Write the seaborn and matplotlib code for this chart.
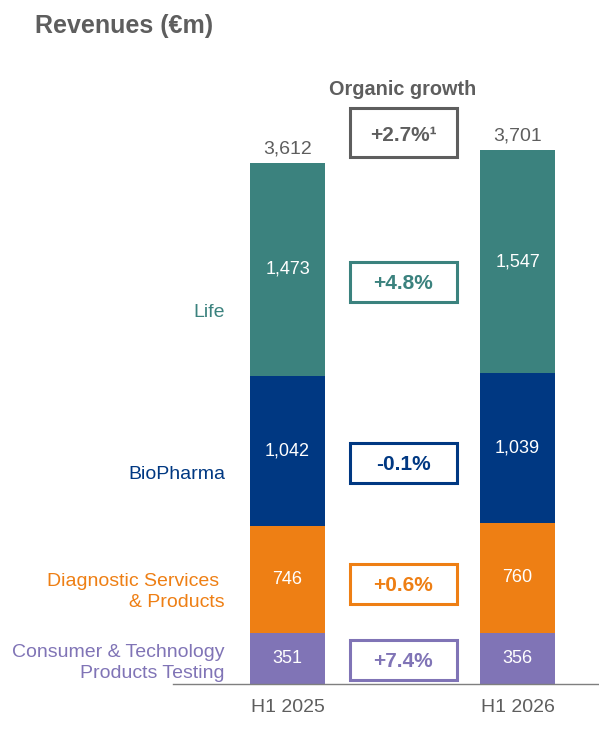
import numpy as np
import matplotlib
matplotlib.use("Agg")
import matplotlib.pyplot as plt
from matplotlib.patches import Rectangle
import seaborn as sns

# data (EUR m)
periods = ["H1 2025", "H1 2026"]
segment_names = ["Consumer & Technology\nProducts Testing", "Diagnostic Services \n& Products", "BioPharma", "Life"]
consumer = [351, 356]
diagnostic = [746, 760]
biopharma = [1042, 1039]
life = [1473, 1547]
totals = [3612, 3701]
growth = ["+7.4%", "+0.6%", "-0.1%", "+4.8%"]
total_growth = "+2.7%\u00b9"

colors = ["#8074b6", "#ee7f14", "#003882", "#3b827e"]
grey = "#5e5e5e"

plt.rcParams["font.family"] = ["Liberation Sans", "DejaVu Sans"]

fig = plt.figure(figsize=(5.99, 7.31), dpi=100)
ax = fig.add_axes([173 / 599, 47 / 731, 426 / 599, 624 / 731])

seg_values = np.array([consumer, diagnostic, biopharma, life])
cum = seg_values.cumsum(axis=0)

# stacked bars: draw cumulative heights from the top segment down
for i in range(len(seg_values) - 1, -1, -1):
    sns.barplot(x=periods, y=cum[i], color=colors[i], saturation=1,
                width=75 / 230, linewidth=0, ax=ax)

ax.set_xlim(-0.498, 1.354)
ax.set_ylim(0, 4327)

# values inside segments
for i in range(len(seg_values)):
    for j in range(len(periods)):
        ax.text(j, cum[i][j] - seg_values[i][j] / 2, f"{seg_values[i][j]:,}",
                ha="center", va="center", color="white", fontsize=13)

# totals above bars
for j, t in enumerate(totals):
    ax.annotate(f"{t:,}", (j, cum[-1][j]), xytext=(0, 4), textcoords="offset points",
                ha="center", va="bottom", color=grey, fontsize=14)

# segment names on the left
name_y = [145, 640, 1456, 2573]
for i, name in enumerate(segment_names):
    ax.text(-0.272, name_y[i], name, ha="right", va="center", color=colors[i],
            fontsize=14, multialignment="right", linespacing=1.3)

# organic growth boxes
box_w = 0.465
box_h = 277
box_y = [166, 693, 1533, 2788]
for i, g in enumerate(growth):
    ax.add_patch(Rectangle((0.502 - box_w / 2, box_y[i] - box_h / 2), box_w, box_h,
                           fill=False, edgecolor=colors[i], linewidth=2.2, clip_on=False))
    ax.text(0.502, box_y[i] - 10, g, ha="center", va="center", color=colors[i],
            fontsize=15, fontweight="bold")

ax.add_patch(Rectangle((0.502 - box_w / 2, 3821 - 340 / 2), box_w, 340,
                       fill=False, edgecolor=grey, linewidth=2.2, clip_on=False))
ax.text(0.502, 3800, total_growth, ha="center", va="center", color=grey,
        fontsize=15, fontweight="bold")
ax.text(0.502, 4120, "Organic growth", ha="center", va="center", color=grey,
        fontsize=14.3, fontweight="bold")

fig.text(35 / 599, 1 - 26 / 731, "Revenues (\u20acm)", ha="left", va="center",
         color=grey, fontsize=18, fontweight="bold")

# axes styling
for side in ["top", "right", "left"]:
    ax.spines[side].set_visible(False)
ax.spines["bottom"].set_color("#7f7f7f")
ax.spines["bottom"].set_linewidth(1)
ax.set_yticks([])
ax.set_xlabel("")
ax.set_ylabel("")
ax.tick_params(axis="x", length=0, pad=10.5, labelsize=14, labelcolor=grey)

fig.savefig("out.png", dpi=100, facecolor="white")
